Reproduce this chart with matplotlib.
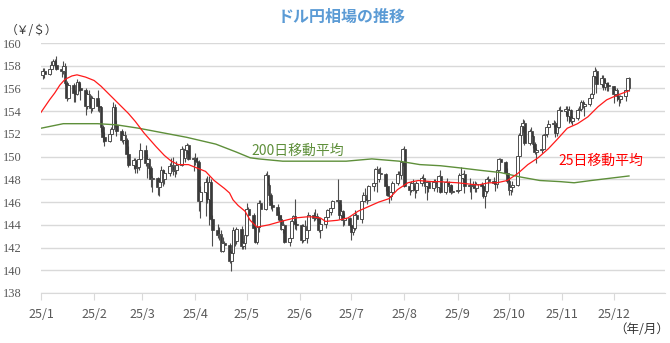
import numpy as np
import pandas as pd
import matplotlib
matplotlib.use("Agg")
import matplotlib.pyplot as plt
import matplotlib.dates as mdates

plt.rcParams['font.family'] = ['Noto Sans CJK JP', 'DejaVu Sans']

# 日足 (始値, 高値, 安値, 終値)
jan = [(157.2, 157.8, 156.8, 157.5), (157.5, 157.8, 156.9, 157.3), (157.3, 158.1, 157.2, 157.7),
       (157.7, 158.4, 157.4, 158.1), (158.1, 158.6, 157.9, 158.4), (158.4, 158.6, 157.9, 158.1),
       (158.1, 158.9, 157.6, 157.7), (157.7, 158.0, 157.0, 157.5), (157.5, 158.4, 157.3, 158.0),
       (158.0, 158.2, 156.3, 156.5), (156.5, 156.7, 154.9, 155.2), (155.2, 156.4, 155.1, 156.3),
       (156.3, 156.5, 154.8, 155.6), (155.6, 155.9, 154.8, 155.5), (155.5, 156.8, 155.4, 156.6),
       (156.6, 156.7, 155.8, 156.0), (156.0, 156.5, 155.0, 155.9), (155.9, 156.0, 153.7, 154.5),
       (154.5, 155.7, 154.2, 155.5), (155.5, 155.9, 154.9, 155.2), (155.2, 155.4, 153.8, 154.3),
       (154.3, 155.3, 154.0, 155.2)]
feb = [(155.2, 155.9, 154.0, 154.5), (154.5, 155.0, 153.9, 154.4), (154.4, 154.5, 152.2, 152.6),
       (152.6, 152.8, 151.3, 151.7), (151.7, 152.2, 150.9, 151.4), (151.4, 152.2, 151.3, 152.0),
       (152.0, 152.6, 151.8, 152.4), (152.4, 154.8, 152.3, 154.4), (154.4, 154.6, 152.6, 152.8),
       (152.8, 153.2, 151.8, 152.3), (152.3, 152.4, 151.3, 151.5), (151.5, 152.1, 151.1, 151.9),
       (151.9, 152.3, 151.1, 151.5), (151.5, 151.6, 149.9, 150.2), (150.2, 150.9, 149.1, 149.3),
       (149.3, 149.9, 148.9, 149.7), (149.7, 149.9, 148.6, 149.0), (149.0, 149.6, 148.6, 149.1),
       (149.1, 150.1, 148.8, 149.8), (149.8, 151.2, 149.6, 150.6)]
mar = [(150.6, 151.0, 149.2, 149.4), (149.4, 150.2, 148.1, 149.8), (149.8, 149.9, 148.5, 149.0),
       (149.0, 149.2, 147.3, 148.0), (148.0, 148.3, 146.9, 148.1), (148.1, 148.2, 146.6, 147.3),
       (147.3, 148.1, 146.5, 147.8), (147.8, 149.2, 147.5, 148.8), (148.8, 148.9, 147.4, 148.0),
       (148.0, 148.8, 147.6, 148.6), (148.6, 149.4, 148.3, 149.2), (149.2, 149.9, 148.9, 149.3),
       (149.3, 150.0, 148.4, 148.7), (148.7, 149.1, 148.2, 148.8), (148.8, 149.6, 148.5, 149.3),
       (149.3, 150.9, 149.2, 150.7), (150.7, 150.8, 149.6, 149.9), (149.9, 150.8, 149.5, 150.6),
       (150.6, 151.2, 150.2, 151.0), (151.0, 151.1, 149.7, 149.8), (149.8, 150.0, 148.7, 149.9)]
apr = [(149.9, 150.3, 149.3, 149.6), (149.6, 150.0, 148.9, 149.5), (149.5, 149.7, 145.2, 146.1),
       (146.1, 147.4, 144.6, 146.9), (146.9, 148.1, 144.8, 147.8), (147.8, 148.3, 145.9, 146.3),
       (146.3, 148.3, 144.0, 147.8), (147.8, 148.0, 144.4, 144.5), (144.5, 144.9, 142.1, 143.5),
       (143.5, 144.1, 142.8, 143.1), (143.1, 143.8, 142.7, 143.2), (143.2, 143.5, 141.6, 141.7),
       (141.7, 142.9, 141.6, 142.4), (142.4, 142.6, 141.9, 142.2), (142.2, 142.4, 140.6, 140.8),
       (140.8, 141.7, 139.9, 141.5), (141.5, 143.8, 141.4, 143.5), (143.5, 143.6, 142.1, 142.6),
       (142.6, 143.8, 142.3, 143.6), (143.6, 143.9, 141.9, 142.1), (142.1, 142.6, 141.9, 142.4),
       (142.4, 143.2, 141.9, 143.1)]
may = [(143.1, 145.9, 143.0, 145.4), (145.4, 145.6, 144.3, 144.9), (144.9, 145.0, 143.6, 143.7),
       (143.7, 143.9, 142.4, 142.5), (142.5, 144.0, 142.3, 143.8), (143.8, 146.2, 143.4, 145.9),
       (145.9, 146.2, 144.8, 145.4), (145.4, 148.6, 145.3, 148.4), (148.4, 148.7, 147.2, 147.5),
       (147.5, 147.7, 146.2, 146.6), (146.6, 146.8, 145.4, 145.7), (145.7, 146.1, 145.2, 145.6),
       (145.6, 145.8, 144.4, 144.9), (144.9, 145.2, 144.3, 144.5), (144.5, 144.9, 143.5, 143.6),
       (143.6, 144.4, 143.3, 144.0), (144.0, 144.1, 142.4, 142.5), (142.5, 143.0, 142.1, 142.8),
       (142.8, 144.4, 142.6, 144.3), (144.3, 144.9, 143.9, 144.8), (144.8, 146.3, 143.6, 144.1),
       (144.1, 144.3, 143.5, 144.0)]
jun = [(144.0, 144.1, 142.4, 142.7), (142.7, 144.1, 142.5, 143.9), (143.9, 144.4, 142.7, 142.8),
       (142.8, 144.0, 142.4, 143.5), (143.5, 145.1, 143.4, 144.9), (144.9, 145.1, 144.3, 144.6),
       (144.6, 145.4, 144.4, 144.8), (144.8, 145.0, 144.4, 144.6), (144.6, 144.7, 143.4, 143.5),
       (143.5, 144.5, 142.8, 144.1), (144.1, 144.8, 143.7, 144.7), (144.7, 145.4, 144.3, 145.3),
       (145.3, 145.4, 144.7, 145.1), (145.1, 145.8, 144.9, 145.5), (145.5, 146.2, 145.3, 146.1),
       (146.1, 148.0, 145.9, 146.2), (146.2, 146.2, 144.5, 144.9), (144.9, 145.8, 144.8, 145.2),
       (145.2, 145.3, 143.9, 144.4), (144.4, 145.0, 144.0, 144.6), (144.6, 144.7, 143.8, 144.0)]
jul = [(144.0, 144.1, 142.7, 143.4), (143.4, 144.0, 143.1, 143.7), (143.7, 145.3, 143.5, 144.9),
       (144.9, 145.0, 144.2, 144.5), (144.5, 146.2, 144.2, 146.1), (146.1, 146.9, 145.7, 146.6),
       (146.6, 147.2, 146.0, 146.3), (146.3, 146.8, 145.8, 146.2), (146.2, 147.5, 146.1, 147.4),
       (147.4, 147.8, 147.0, 147.7), (147.7, 149.0, 147.4, 148.9), (148.9, 149.2, 146.9, 148.0),
       (148.0, 149.0, 147.8, 148.6), (148.6, 149.1, 148.2, 148.5), (148.5, 148.6, 147.0, 147.4),
       (147.4, 147.6, 146.5, 146.6), (146.6, 147.0, 145.9, 146.5), (146.5, 147.1, 146.2, 146.9),
       (146.9, 147.9, 146.7, 147.7), (147.7, 148.7, 147.5, 148.5), (148.5, 148.7, 147.9, 148.4),
       (148.4, 149.6, 148.0, 149.5), (149.5, 150.8, 149.2, 150.7)]
aug = [(150.7, 150.9, 147.3, 147.4), (147.4, 147.8, 146.6, 147.1), (147.1, 147.9, 146.9, 147.7),
       (147.7, 148.0, 147.0, 147.4), (147.4, 147.6, 146.4, 147.1), (147.1, 147.9, 146.8, 147.7),
       (147.7, 148.3, 147.4, 148.1), (148.1, 148.5, 147.7, 147.8), (147.8, 148.0, 146.8, 147.4),
       (147.4, 147.9, 146.2, 147.8), (147.8, 147.9, 146.9, 147.2), (147.2, 148.0, 147.0, 147.8),
       (147.8, 148.0, 147.4, 147.7), (147.7, 147.9, 146.9, 147.3), (147.3, 148.4, 147.2, 148.3),
       (148.3, 148.8, 146.8, 146.9), (146.9, 147.9, 146.7, 147.8), (147.8, 148.1, 147.1, 147.4),
       (147.4, 147.9, 147.0, 147.5), (147.5, 147.6, 146.7, 146.9), (146.9, 147.5, 146.8, 147.0)]
sep = [(147.0, 147.4, 146.8, 147.1), (147.1, 148.6, 147.0, 148.4), (148.4, 149.1, 147.8, 148.1),
       (148.1, 148.6, 147.8, 148.5), (148.5, 148.8, 146.8, 147.4), (147.4, 148.1, 146.9, 147.5),
       (147.5, 147.6, 146.3, 147.4), (147.4, 147.9, 147.2, 147.5), (147.5, 147.9, 146.9, 147.2),
       (147.2, 147.8, 146.9, 147.6), (147.6, 147.8, 147.2, 147.4), (147.4, 147.5, 146.4, 146.5),
       (146.5, 147.0, 145.5, 147.0), (147.0, 148.2, 146.8, 148.0), (148.0, 148.3, 147.5, 147.9),
       (147.9, 148.2, 147.6, 147.7), (147.7, 147.9, 147.0, 147.6), (147.6, 148.9, 147.2, 148.8),
       (148.8, 149.9, 148.7, 149.8), (149.8, 149.9, 149.3, 149.5), (149.5, 149.6, 148.4, 148.6),
       (148.6, 149.0, 147.7, 147.9)]
oct = [(147.9, 148.2, 146.6, 147.1), (147.1, 147.5, 146.6, 147.3), (147.3, 147.9, 146.9, 147.5),
       (147.5, 150.5, 147.4, 150.1), (150.1, 152.1, 149.9, 151.9), (151.9, 152.8, 151.6, 152.7),
       (152.7, 153.3, 152.2, 153.0), (153.0, 153.2, 151.0, 151.2), (151.2, 152.4, 151.0, 152.3),
       (152.3, 152.6, 151.2, 151.8), (151.8, 151.9, 150.8, 151.1), (151.1, 151.3, 150.2, 150.4),
       (150.4, 150.8, 149.4, 150.6), (150.6, 151.1, 150.3, 150.7), (150.7, 152.0, 150.6, 151.9),
       (151.9, 152.1, 151.2, 152.0), (152.0, 152.7, 151.7, 152.6), (152.6, 153.2, 152.4, 152.9),
       (152.9, 153.2, 152.6, 153.0), (153.0, 153.1, 151.7, 152.1), (152.1, 152.7, 151.8, 152.6),
       (152.6, 154.4, 152.5, 154.1), (154.1, 154.5, 153.6, 154.0)]
nov = [(154.0, 154.5, 153.7, 154.2), (154.2, 154.5, 153.1, 153.6), (153.6, 154.5, 153.0, 154.1),
       (154.1, 154.2, 153.0, 153.1), (153.1, 153.6, 152.8, 153.4), (153.4, 154.3, 153.2, 154.1),
       (154.1, 154.5, 153.7, 154.2), (154.2, 155.0, 154.0, 154.8), (154.8, 155.0, 154.3, 154.5),
       (154.5, 154.7, 153.6, 154.6), (154.6, 155.3, 154.5, 155.2), (155.2, 155.6, 154.8, 155.5),
       (155.5, 157.2, 155.3, 157.1), (157.1, 157.9, 156.9, 157.5), (157.5, 157.7, 155.6, 156.4),
       (156.4, 157.2, 156.2, 156.9), (156.9, 157.2, 155.9, 156.1), (156.1, 156.8, 155.9, 156.5),
       (156.5, 156.6, 155.8, 156.3), (156.3, 156.6, 155.8, 156.2)]
dec = [(156.2, 156.2, 154.7, 155.5), (155.5, 156.0, 155.3, 155.9), (155.9, 156.0, 154.9, 155.3),
       (155.3, 155.4, 154.5, 155.1), (155.1, 155.4, 154.7, 155.3), (155.3, 155.9, 154.9, 155.9),
       (155.9, 156.9, 155.7, 156.9), (156.9, 157.0, 155.8, 156.0)]

month_first_days = ["2025-01-02", "2025-02-03", "2025-03-03", "2025-04-01", "2025-05-01", "2025-06-02",
                    "2025-07-01", "2025-08-01", "2025-09-01", "2025-10-01", "2025-11-03", "2025-12-01"]
month_rows = [jan, feb, mar, apr, may, jun, jul, aug, sep, oct, nov, dec]

# 25日移動平均
ma25_dates = ["2025-01-01", "2025-01-06", "2025-01-09", "2025-01-12", "2025-01-15", "2025-01-19",
              "2025-01-22", "2025-01-27", "2025-02-01", "2025-02-05", "2025-02-09", "2025-02-13",
              "2025-02-17", "2025-02-21", "2025-02-25", "2025-03-02", "2025-03-09", "2025-03-14",
              "2025-03-18", "2025-03-22", "2025-03-28", "2025-04-02", "2025-04-07", "2025-04-12",
              "2025-04-18", "2025-04-21", "2025-04-23", "2025-04-26", "2025-04-30", "2025-05-03",
              "2025-05-07", "2025-05-14", "2025-05-21", "2025-05-29", "2025-06-05", "2025-06-08",
              "2025-06-13", "2025-06-16", "2025-06-23", "2025-06-29", "2025-07-05", "2025-07-11",
              "2025-07-17", "2025-07-23", "2025-07-28", "2025-08-03", "2025-08-09", "2025-08-17",
              "2025-08-21", "2025-09-01", "2025-09-13", "2025-09-19", "2025-09-24", "2025-09-30",
              "2025-10-06", "2025-10-12", "2025-10-18", "2025-10-24", "2025-10-29", "2025-11-04",
              "2025-11-10", "2025-11-16", "2025-11-22", "2025-11-27", "2025-12-03", "2025-12-10"]
ma25_vals = [153.9, 155.0, 155.6, 156.3, 156.8, 157.1,
             157.2, 157.0, 156.7, 156.2, 155.6, 155.0,
             154.4, 153.8, 153.1, 152.1, 150.9, 150.1,
             149.6, 149.3, 149.3, 149.0, 148.7, 147.9,
             147.2, 146.8, 146.2, 145.7, 145.2, 144.4,
             143.8, 144.0, 144.3, 144.6, 144.7, 144.7,
             144.6, 144.3, 144.4, 144.6, 145.2, 145.6,
             146.0, 146.3, 147.1, 147.7, 147.9, 147.8,
             147.8, 147.7, 147.5, 147.7, 147.7, 147.9,
             148.5, 149.3, 149.9, 150.7, 151.5, 152.5,
             152.9, 153.5, 154.4, 155.0, 155.4, 155.8]

# 200日移動平均
ma200_dates = ["2025-01-01", "2025-01-14", "2025-02-03", "2025-02-14", "2025-02-27", "2025-03-13",
               "2025-03-27", "2025-04-13", "2025-04-25", "2025-05-03", "2025-05-08", "2025-05-22",
               "2025-06-06", "2025-06-28", "2025-07-13", "2025-07-29", "2025-08-10", "2025-08-22",
               "2025-09-03", "2025-09-14", "2025-09-26", "2025-10-08", "2025-10-19", "2025-10-31",
               "2025-11-08", "2025-11-18", "2025-11-29", "2025-12-10"]
ma200_vals = [152.5, 152.9, 152.9, 152.8, 152.5, 152.1,
              151.7, 151.1, 150.4, 149.9, 149.8, 149.6,
              149.6, 149.6, 149.8, 149.6, 149.3, 149.2,
              149.0, 148.8, 148.6, 148.2, 147.9, 147.8,
              147.7, 147.9, 148.1, 148.3]

months = pd.date_range("2025-01-01", "2025-12-01", freq="MS")
month_labels = [f"25/{m}" for m in range(1, 13)]

# 日付と四本値をまとめる
dates = []
ohlc = []
for first, rows in zip(month_first_days, month_rows):
    dates.extend(pd.bdate_range(first, periods=len(rows)))
    ohlc.extend(rows)
x = mdates.date2num(pd.DatetimeIndex(dates).to_pydatetime())
o, h, l, c = np.array(ohlc).T

fig = plt.figure(figsize=(6.7, 3.43), dpi=100)
ax = fig.add_axes([0.0612, 0.1458, 0.9313, 0.7288])

up = c >= o
body_w = 1.6
ax.vlines(x, l, h, color="#4d4d4d", lw=0.8, zorder=2)
ax.bar(x[~up], (o - c)[~up], bottom=c[~up], width=body_w, color="#3a3a3a",
       edgecolor="#3a3a3a", lw=0.5, zorder=3)
ax.bar(x[up], np.maximum(c - o, 0.05)[up], bottom=o[up], width=body_w, color="white",
       edgecolor="#4d4d4d", lw=0.7, zorder=3)

ax.plot(pd.to_datetime(ma200_dates), ma200_vals, color="#5e8f3a", lw=1.0, zorder=4)
ax.plot(pd.to_datetime(ma25_dates), ma25_vals, color="#ff1a1a", lw=0.9, zorder=5)

ax.set_xlim(pd.Timestamp("2025-01-01"), pd.Timestamp("2025-12-31"))
ax.set_ylim(138, 160)
ax.set_yticks(np.arange(138, 161, 2))
ax.set_xticks(months)
ax.set_xticklabels(month_labels)

ax.grid(axis="y", color="#d9d9d9", lw=1.0)
ax.set_axisbelow(True)
for s in ["top", "right", "left"]:
    ax.spines[s].set_visible(False)
ax.spines["bottom"].set_color("#d9d9d9")
ax.tick_params(axis="y", length=0, pad=14, labelsize=9, labelcolor="#595959")
ax.tick_params(axis="x", length=5, color="#d9d9d9", pad=6, labelsize=9, labelcolor="#595959")
for t in ax.get_yticklabels():
    t.set_fontfamily(["Liberation Serif", "DejaVu Serif"])

fig.text(0.51, 0.95, "ドル円相場の推移", ha="center", va="center", fontsize=11.5,
         fontweight="bold", color="#5b9bd5")
fig.text(0.008, 0.912, "（￥/＄）", ha="left", va="center", fontsize=8.5, color="#333333")
fig.text(0.998, 0.04, "（年/月）", ha="right", va="center", fontsize=9, color="#333333")
ax.text(pd.Timestamp("2025-05-04"), 150.55, "200日移動平均", ha="left", va="center",
        fontsize=10, color="#5e8f3a")
ax.text(pd.Timestamp("2025-10-30"), 149.6, "25日移動平均", ha="left", va="center",
        fontsize=10, color="#ff0000")

fig.savefig("out.png", dpi=100)
